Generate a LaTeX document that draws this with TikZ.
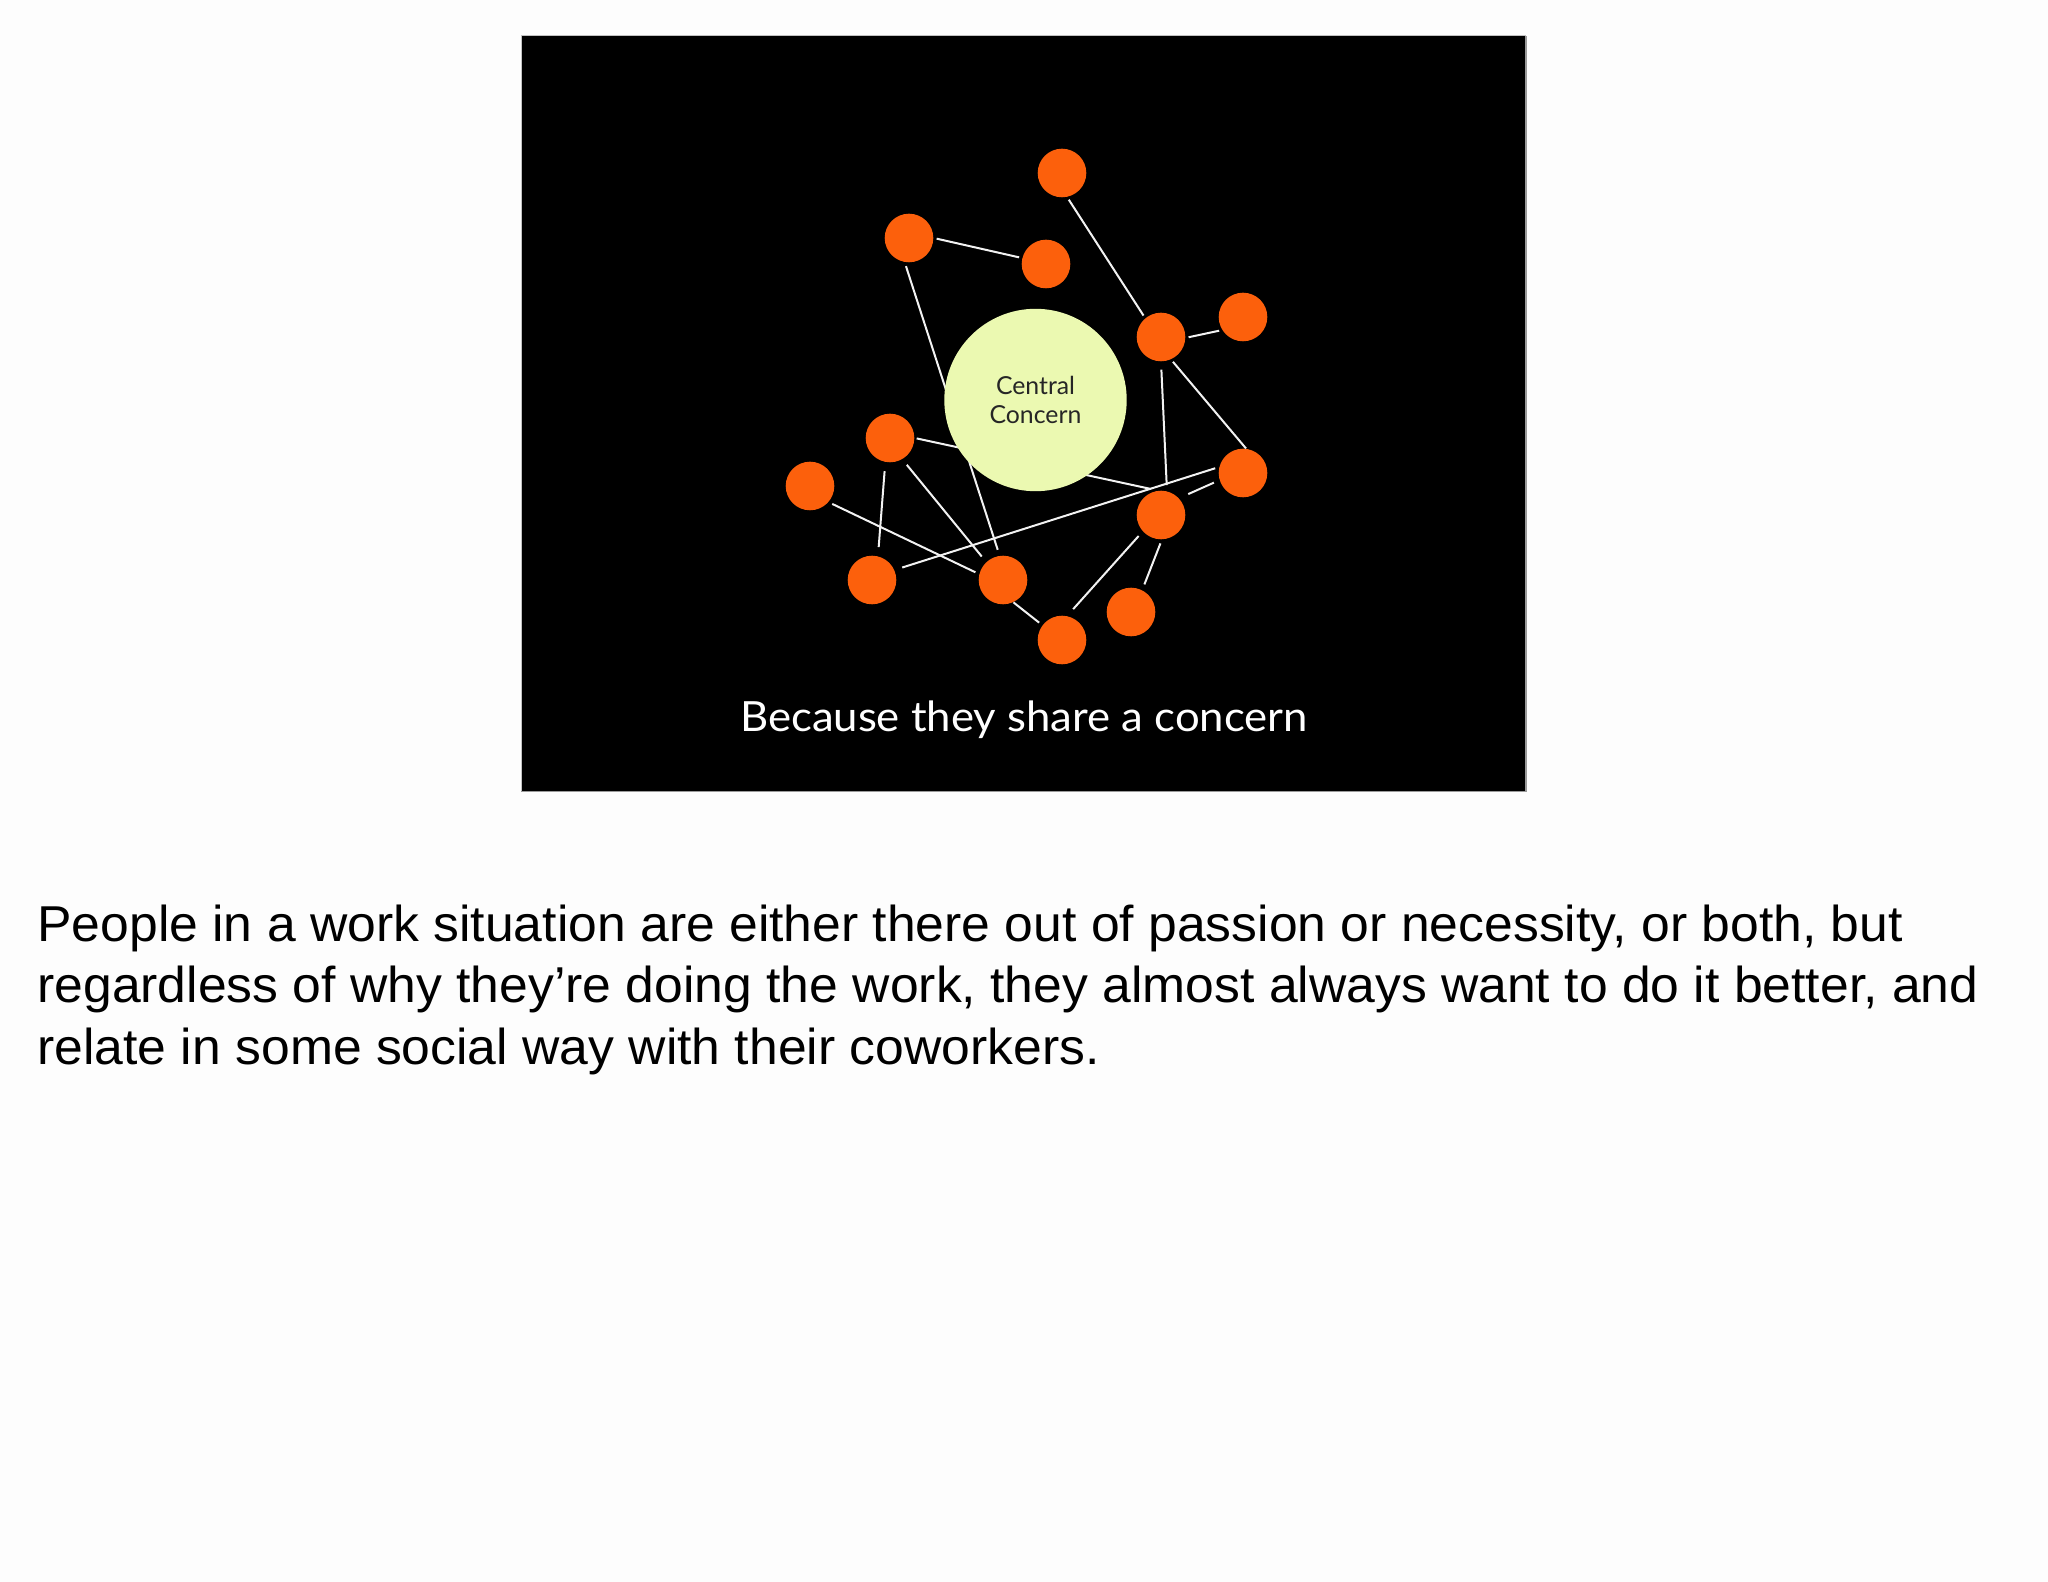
\documentclass[tikz,border=0pt]{standalone}
\usepackage{fontspec}
\setmainfont{Liberation Sans}[FakeStretch=1.025]
\newfontfamily\slidefont{Lato}
\newfontfamily\captionfont{Lato}[FakeStretch=1.05]
\definecolor{pagebg}{HTML}{FDFDFD}
\definecolor{nodeorange}{HTML}{FC600C}
\definecolor{concernfill}{HTML}{EBF9B1}
\definecolor{linkwhite}{HTML}{F2F2F2}
\definecolor{framegray}{HTML}{9A9A9A}
\begin{document}
\begin{tikzpicture}[x=0.5pt,y=-0.5pt,
  person/.style={circle,fill=nodeorange,draw=none,inner sep=0pt,minimum size=24.3pt},
  concern/.style={circle,fill=concernfill,draw=none,inner sep=0pt,minimum size=91.2pt,
     font=\slidefont\fontsize{12.4}{14.5}\selectfont,text=black!85,align=center},
  link/.style={draw=linkwhite,line width=1pt,shorten >=1.5pt,shorten <=1.5pt},
  bodytext/.style={anchor=base west,inner sep=0pt,font=\fontsize{25.2}{30.75}\selectfont,text=black}]
\useasboundingbox (0,0) rectangle (2048,1582);
\fill[pagebg] (0,0) rectangle (2048,1582);
% slide
\fill[black] (521,36) rectangle (1526,791);
\draw[framegray!60,line width=0.5pt] (521,791) -- (521,36) -- (1526,36);
\draw[framegray,line width=0.8pt] (521,791.5) -- (1526,791.5) -- (1526,36);
% nodes
\node[person] (n1) at (1062,173) {};
\node[person] (n2) at (909,238) {};
\node[person] (n3) at (1046,264) {};
\node[person] (n4) at (1161,337) {};
\node[person] (n5) at (1243,317) {};
\node[person] (n6) at (890,438) {};
\node[person] (n7) at (810,486) {};
\node[person] (n8) at (1243,473) {};
\node[person] (n9) at (1161,515) {};
\node[person] (n10) at (872,580) {};
\node[person] (n11) at (1003,580) {};
\node[person] (n12) at (1062,640) {};
\node[person] (n13) at (1131,612) {};
\coordinate (n9tl) at (1151,489);
% links
\draw[link] (n1.-78) -- (n4.130);
\draw[link] (n2.0) -- (n3.166);
\draw[link,shorten <=2pt,shorten >=3pt] (n2.-100) -- (n11.98);
\draw[link] (n4.-2) -- (n5.212);
\draw[link,shorten <=4pt,shorten >=3pt] (n4.-90) -- (n9.76);
\draw[link,shorten >=0pt] (n4.-66) -- (n8.83);
\draw[link,shorten <=1pt,shorten >=0pt] (n6.0) -- (n9tl);
\draw[link,shorten <=4.5pt,shorten >=4.5pt] (n6.259) -- (n10.76);
\draw[link,shorten <=3.5pt,shorten >=3.5pt] (n6.-60) -- (n11.133);
\draw[link,shorten <=2pt,shorten >=2pt] (n7.-41) -- (n11.166);
\draw[link,shorten <=4pt,shorten >=2pt] (n10.24) -- (n8.166);
\draw[link,shorten <=5pt,shorten >=3pt] (n9.43) -- (n8.197);
\draw[link,shorten <=0pt,shorten >=2pt] (n11.-65) -- (n12.143);
\draw[link,shorten <=3pt,shorten >=4.5pt] (n9.222) -- (n12.78);
\draw[link,shorten <=2pt,shorten >=3pt] (n9.-88) -- (n13.63);
% central concern
\node[concern] (cc) at (1035.5,400) {Central\\Concern};
% caption
\node[anchor=base,inner sep=0pt,text=white,font=\captionfont\fontsize{20.8}{24}\selectfont] (cap) at (1024,731) {Because they share a concern};
% notes
\node[bodytext] (l1) at (37,941) {People in a work situation are either there out of passion or necessity, or both, but};
\node[bodytext] (l2) at (37,1002.5) {regardless of why they’re doing the work, they almost always want to do it better, and};
\node[bodytext] (l3) at (37,1064) {relate in some social way with their coworkers.};
\end{tikzpicture}
\end{document}
